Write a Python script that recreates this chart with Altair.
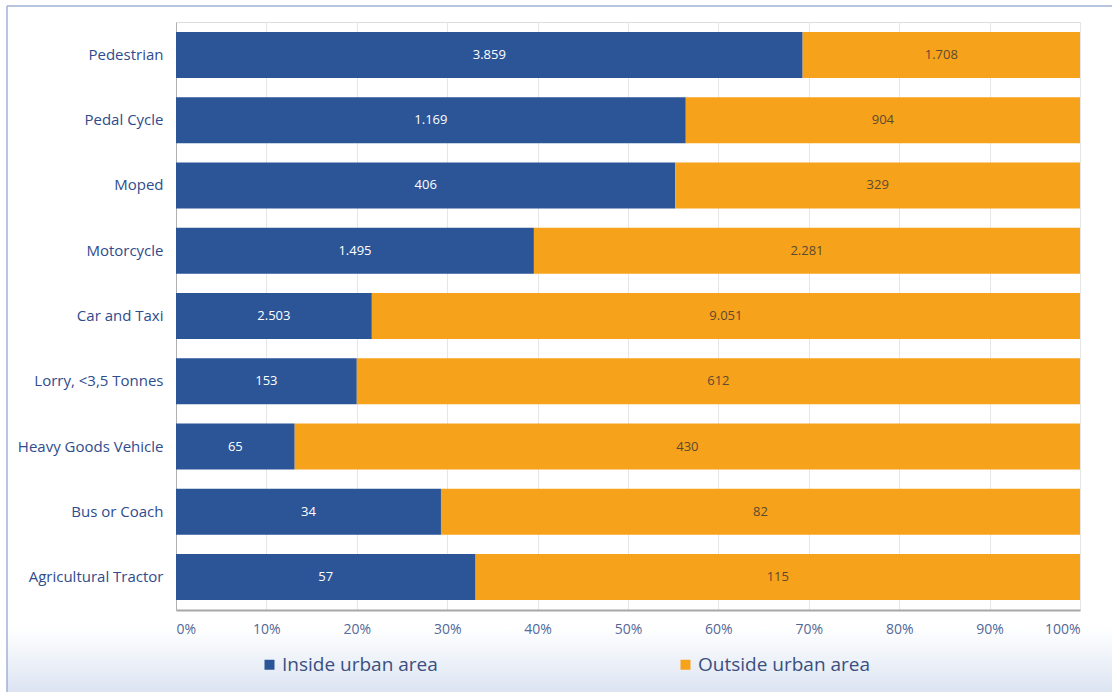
import altair as alt
import pandas as pd

categories = ["Pedestrian", "Pedal Cycle", "Moped", "Motorcycle", "Car and Taxi",
              "Lorry, <3,5 Tonnes", "Heavy Goods Vehicle", "Bus or Coach", "Agricultural Tractor"]
inside = [3859, 1169, 406, 1495, 2503, 153, 65, 34, 57]
outside = [1708, 904, 329, 2281, 9051, 612, 430, 82, 115]
series = ["Inside urban area", "Outside urban area"]
tick_values = [0, 0.1, 0.2, 0.3, 0.4, 0.5, 0.6, 0.7, 0.8, 0.9, 1.0]

rows = []
for c, a, b in zip(categories, inside, outside):
    for order, (s, v) in enumerate(zip(series, [a, b])):
        rows.append({"cat": c, "area": s, "value": v, "order": order,
                     "label": f"{v:,}".replace(",", ".")})
df = pd.DataFrame(rows)

FONT = "Open Sans"

base = alt.Chart(df).transform_stack(
    stack="value", groupby=["cat"], as_=["v0", "v1"], offset="normalize",
    sort=[alt.SortField("order", order="ascending")]
).transform_calculate(mid="(datum.v0 + datum.v1) / 2")

y_enc = alt.Y("cat:N", sort=categories, title=None,
              scale=alt.Scale(paddingInner=0.295, paddingOuter=0.153),
              axis=alt.Axis(labelFontSize=15, labelColor="#2f4c8c", labelFont=FONT,
                            ticks=False, labelPadding=13, domainColor="#b0b0b0",
                            grid=False))

bars = base.mark_bar().encode(
    x=alt.X("v0:Q", title=None, scale=alt.Scale(domain=[0, 1], nice=False),
            axis=alt.Axis(format=".0%", values=tick_values, labelFontSize=14,
                          labelColor="#4f6596", labelFont=FONT, ticks=False,
                          labelPadding=12, domainColor="#a8a8a8", domainWidth=2,
                          grid=True, gridColor="#e6e6e6")),
    x2="v1:Q",
    y=y_enc,
    color=alt.Color("area:N", scale=alt.Scale(domain=series, range=["#2b5597", "#f7a21b"]),
                    legend=alt.Legend(orient="none", legendX=84, legendY=633,
                                      direction="horizontal", title=None,
                                      symbolType="square", symbolSize=100,
                                      symbolStrokeWidth=0, labelFontSize=19,
                                      labelFont=FONT, labelColor="#3a4f80",
                                      labelLimit=400, columnPadding=238,
                                      labelOffset=3, padding=0)),
)

texts = base.mark_text(fontSize=13, font=FONT).encode(
    x="mid:Q",
    y=alt.Y("cat:N", sort=categories),
    text="label:N",
    color=alt.condition(alt.datum.area == "Inside urban area",
                        alt.value("white"), alt.value("#5b4a32")),
)

one = alt.Data(values=[{"k": 1}])
grad = alt.Chart(one).mark_rect(
    color=alt.LinearGradient(
        gradient="linear", x1=0, x2=0, y1=0, y2=1,
        stops=[alt.GradientStop(color="rgba(221,229,243,0)", offset=0),
               alt.GradientStop(color="#dce4f2", offset=1)])
).encode(x=alt.value(-169), x2=alt.value(936), y=alt.value(606), y2=alt.value(670))

frame_left = alt.Chart(one).mark_rule(color="#9fb2d6", strokeWidth=1.5).encode(
    x=alt.value(-169), y=alt.value(-16), y2=alt.value(670))
frame_top = alt.Chart(one).mark_rule(color="#9fb2d6", strokeWidth=1.5).encode(
    x=alt.value(-169), x2=alt.value(936), y=alt.value(-16))

chart = alt.layer(grad, frame_left, frame_top, bars, texts).properties(
    width=904, height=588,
    autosize=alt.AutoSizeParams(type="none"),
    padding={"left": 176, "top": 22, "right": 32, "bottom": 82},
).configure_view(stroke=None).configure(background="white")

chart.save("out.html", embed_options={"renderer": "svg", "actions": False})
